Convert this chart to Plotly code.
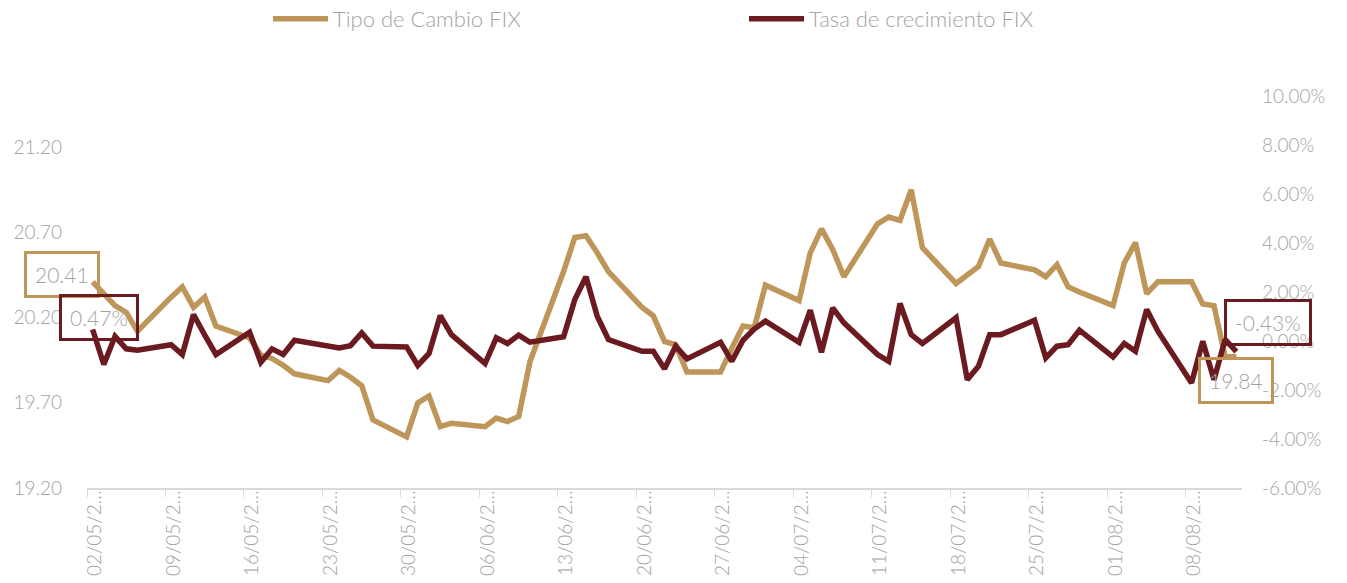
import pandas as pd
import plotly.graph_objects as go

dates = [
    "2022-05-02", "2022-05-03", "2022-05-04", "2022-05-05", "2022-05-06",
    "2022-05-09", "2022-05-10", "2022-05-11", "2022-05-12", "2022-05-13",
    "2022-05-16", "2022-05-17", "2022-05-18", "2022-05-19", "2022-05-20",
    "2022-05-23", "2022-05-24", "2022-05-25", "2022-05-26", "2022-05-27",
    "2022-05-30", "2022-05-31", "2022-06-01", "2022-06-02", "2022-06-03",
    "2022-06-06", "2022-06-07", "2022-06-08", "2022-06-09", "2022-06-10",
    "2022-06-13", "2022-06-14", "2022-06-15", "2022-06-16", "2022-06-17",
    "2022-06-20", "2022-06-21", "2022-06-22", "2022-06-23", "2022-06-24",
    "2022-06-27", "2022-06-28", "2022-06-29", "2022-06-30", "2022-07-01",
    "2022-07-04", "2022-07-05", "2022-07-06", "2022-07-07", "2022-07-08",
    "2022-07-11", "2022-07-12", "2022-07-13", "2022-07-14", "2022-07-15",
    "2022-07-18", "2022-07-19", "2022-07-20", "2022-07-21", "2022-07-22",
    "2022-07-25", "2022-07-26", "2022-07-27", "2022-07-28", "2022-07-29",
    "2022-08-01", "2022-08-02", "2022-08-03", "2022-08-04", "2022-08-05",
    "2022-08-08", "2022-08-09", "2022-08-10", "2022-08-11", "2022-08-12",
]

tipo_cambio = [
    20.41, 20.34, 20.27, 20.23, 20.12,
    20.32, 20.38, 20.26, 20.32, 20.15,
    20.08, 19.98, 19.96, 19.92, 19.87,
    19.83, 19.89, 19.85, 19.80, 19.60,
    19.50, 19.70, 19.74, 19.56, 19.58,
    19.56, 19.61, 19.59, 19.62, 19.94,
    20.47, 20.67, 20.68, 20.58, 20.47,
    20.26, 20.21, 20.06, 20.04, 19.88,
    19.88, 20.02, 20.15, 20.14, 20.39,
    20.30, 20.58, 20.72, 20.60, 20.44,
    20.75, 20.79, 20.77, 20.95, 20.61,
    20.40, 20.45, 20.50, 20.66, 20.52,
    20.48, 20.44, 20.51, 20.38, 20.35,
    20.27, 20.52, 20.64, 20.34, 20.41,
    20.41, 20.28, 20.27, 19.97, 19.97,
]

tasa_crecimiento = [  # percent
    0.47, -0.96, 0.19, -0.32, -0.38,
    -0.15, -0.55, 1.08, 0.24, -0.55,
    0.36, -0.87, -0.32, -0.55, 0.03,
    -0.20, -0.28, -0.19, 0.33, -0.21,
    -0.24, -1.00, -0.51, 1.04, 0.26,
    -0.92, 0.13, -0.10, 0.24, -0.05,
    0.17, 1.69, 2.62, 1.01, 0.06,
    -0.42, -0.42, -1.13, -0.21, -0.73,
    -0.05, -0.83, 0.03, 0.49, 0.81,
    -0.05, 1.26, -0.46, 1.35, 0.74,
    -0.55, -0.83, 1.53, 0.26, -0.10,
    0.95, -1.58, -1.03, 0.26, 0.26,
    0.85, -0.69, -0.21, -0.15, 0.44,
    -0.65, -0.10, -0.42, 1.29, 0.40,
    -1.71, -0.01, -1.58, 0.06, -0.43,
]

tick_dates = [
    "2022-05-02", "2022-05-09", "2022-05-16", "2022-05-23", "2022-05-30",
    "2022-06-06", "2022-06-13", "2022-06-20", "2022-06-27", "2022-07-04",
    "2022-07-11", "2022-07-18", "2022-07-25", "2022-08-01", "2022-08-08",
]
tick_labels = [
    "02/05/2…", "09/05/2…", "16/05/2…", "23/05/2…", "30/05/2…",
    "06/06/2…", "13/06/2…", "20/06/2…", "27/06/2…", "04/07/2…",
    "11/07/2…", "18/07/2…", "25/07/2…", "01/08/2…", "08/08/2…",
]
left_ticks = [19.2, 19.7, 20.2, 20.7, 21.2]
right_ticks = [-6, -4, -2, 0, 2, 4, 6, 8, 10]

label_first_tc = "20.41"
label_first_tasa = "0.47%"
label_last_tc = "19.84"
label_last_tasa = "-0.43%"

TAN = "#BF9659"
WINE = "#6B1B20"
GRAY = "#A3A3A3"
FONT = "Lato Light, Lato, sans-serif"

# the page body adds an 8px offset; size the figure to fit the window
W, H = 1339, 575

# points sit in the middle of each day slot (Excel date axis)
x = pd.to_datetime(dates) + pd.Timedelta(hours=12)

fig = go.Figure()
fig.add_trace(go.Scatter(
    x=x, y=tipo_cambio, name="Tipo de Cambio FIX", mode="lines",
    line=dict(color=TAN, width=5.5), yaxis="y", legend="legend",
))
fig.add_trace(go.Scatter(
    x=x, y=tasa_crecimiento, name="Tasa de crecimiento FIX", mode="lines",
    line=dict(color=WINE, width=5.5), yaxis="y2", legend="legend2",
))

def box(xv, yv, yref, text, color, xs, ys):
    fig.add_annotation(
        x=xv, y=yv, xref="x", yref=yref, text=text, showarrow=False,
        xshift=xs, yshift=ys, bordercolor=color, borderwidth=3, borderpad=8,
        font=dict(family=FONT, size=21, color=GRAY),
    )

box(x[0], tipo_cambio[0], "y", label_first_tc, TAN, -31, 7)
box(x[0], tasa_crecimiento[0], "y2", label_first_tasa, WINE, 6, 12)
box(x[-1], tasa_crecimiento[-1], "y2", label_last_tasa, WINE, 32, 29)
box(x[-1], tipo_cambio[-1], "y", label_last_tc, TAN, 0, -24)

legend_common = dict(
    orientation="h", xref="container", yref="container",
    xanchor="left", yanchor="middle",
    font=dict(family=FONT, size=22, color=GRAY), itemwidth=55,
    bgcolor="rgba(0,0,0,0)",
)

fig.update_layout(
    width=W, height=H,
    margin=dict(l=79, r=105, t=88, b=95, autoexpand=False),
    paper_bgcolor="white", plot_bgcolor="white",
    font=dict(family=FONT, size=19, color=GRAY),
    showlegend=True,
    legend=dict(legend_common, x=260 / W, y=1 - 11 / H, entrywidth=230),
    legend2=dict(legend_common, x=736 / W, y=1 - 11 / H, entrywidth=270),
    xaxis=dict(
        type="date", automargin=False,
        range=["2022-05-02", "2022-08-13"],
        tickvals=pd.to_datetime(tick_dates), ticktext=tick_labels,
        tickangle=-90, ticks="outside", ticklen=7, tickcolor="#D9D9D9",
        showline=True, linecolor="#D9D9D9", linewidth=2,
        showgrid=False, zeroline=False, ticklabelshift=8,
        ticklabelstandoff=-14,
        tickfont=dict(family=FONT, size=19, color=GRAY),
    ),
    yaxis=dict(
        range=[19.2, 21.5], tickvals=left_ticks,
        ticktext=[f"{v:.2f}" for v in left_ticks], automargin=False,
        showgrid=False, zeroline=False, showline=False,
        ticklabelstandoff=24,
        tickfont=dict(family=FONT, size=19, color=GRAY),
    ),
    yaxis2=dict(
        range=[-6, 10], tickvals=right_ticks,
        ticktext=[f"{v:.2f}%" for v in right_ticks], automargin=False,
        overlaying="y", side="right", showgrid=False, zeroline=False,
        showline=False, ticklabelstandoff=19,
        tickfont=dict(family=FONT, size=19, color=GRAY),
    ),
)

fig.write_html("out.html")
